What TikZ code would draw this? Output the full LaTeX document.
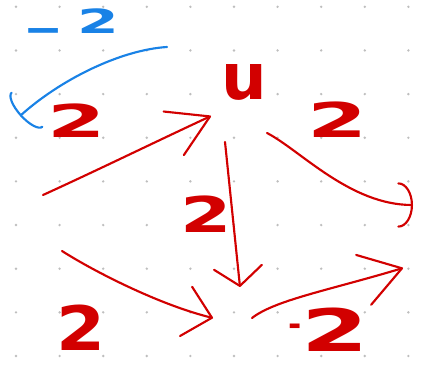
\documentclass[tikz,border=0pt]{standalone}
\usepackage{fontspec}
\setmainfont{DejaVu Sans}
\usepackage{graphicx}
\usetikzlibrary{arrows.meta}
\definecolor{inkred}{RGB}{210,0,0}
\definecolor{inkblue}{RGB}{25,130,230}
\definecolor{dotgray}{RGB}{190,190,190}
\newcommand{\hw}[2][1.4]{\scalebox{#1}[1]{#2}}
\begin{document}
\begin{tikzpicture}[x=0.75pt,y=-0.75pt,
  inkstroke/.style={line width=1.6pt, line cap=round, line join=round},
  redink/.style={inkstroke, draw=inkred},
  blueink/.style={inkstroke, draw=inkblue},
  lbl/.style={inner sep=0pt, outer sep=0pt, text=inkred}]
\fill[white] (0,0) rectangle (427,366);
\useasboundingbox (0,0) rectangle (427,366);
\foreach \i in {0,...,9}{\foreach \j in {0,...,8}{
  \fill[dotgray] ({16+43.6*\i},{6.8+43.65*\j}) circle[radius=1pt];}}
% labels
\node[lbl, font=\fontsize{34}{34}\selectfont\bfseries] (l1) at (77,121) {\hw[1.85]{2}};
\node[lbl, font=\fontsize{48}{48}\selectfont\bfseries] (u) at (244,82) {u};
\node[lbl, font=\fontsize{36}{36}\selectfont\bfseries] (l2) at (338,120) {\hw[1.8]{2}};
\node[lbl, font=\fontsize{37}{37}\selectfont\bfseries] (l3) at (206,214) {\hw[1.5]{2}};
\node[lbl, font=\fontsize{46}{46}\selectfont\bfseries] (l4) at (81,328) {\hw[1.15]{2}};
\node[lbl, anchor=base west, font=\fontsize{44}{44}\selectfont\bfseries] (l5) at (288,351)
  {\raisebox{11.4pt}{\fontsize{24}{24}\selectfont -}\hw[1.65]{2}};
\node[lbl, text=inkblue, anchor=base west, font=\fontsize{25}{25}\selectfont\bfseries] (lb) at (23,34)
  {\raisebox{-5pt}{\hw[2.9]{-}}\hspace{11pt}\hw[1.8]{2}};
% connectors
\coordinate (a1s) at (43,195);  \coordinate (a1e) at (211,116);
\coordinate (a2s) at (267,133); \coordinate (a2e) at (413,205);
\coordinate (a3s) at (225,142); \coordinate (a3e) at (240,287);
\coordinate (a4s) at (62,251);  \coordinate (a4e) at (213,318);
\coordinate (a5s) at (252,318); \coordinate (a5e) at (403,268);
\coordinate (bs) at (167,47);   \coordinate (be) at (20,116);
\draw[redink, -{Straight Barb[length=30pt,width=36pt,round]}]
  (a1s) .. controls (100,169) and (155,142) .. (a1e);
\draw[redink, -{Arc Barb[length=11pt,width=34pt,round]}]
  (a2s) .. controls (300,150) and (350,205) .. (a2e);
\draw[redink, -{Straight Barb[length=14pt,width=36pt,round]}]
  (a3s) -- (a3e);
\draw[redink, -{Straight Barb[length=20pt,width=38pt,round]}]
  (a4s) .. controls (95,272) and (160,305) .. (a4e);
\draw[redink, -{Straight Barb[length=30pt,width=39pt,round]}]
  (a5s) .. controls (275,300) and (330,290) .. (a5e);
\draw[blueink, -{Arc Barb[length=7pt,width=36pt,round]}]
  (bs) .. controls (120,50) and (60,80) .. (be);
\end{tikzpicture}
\end{document}
